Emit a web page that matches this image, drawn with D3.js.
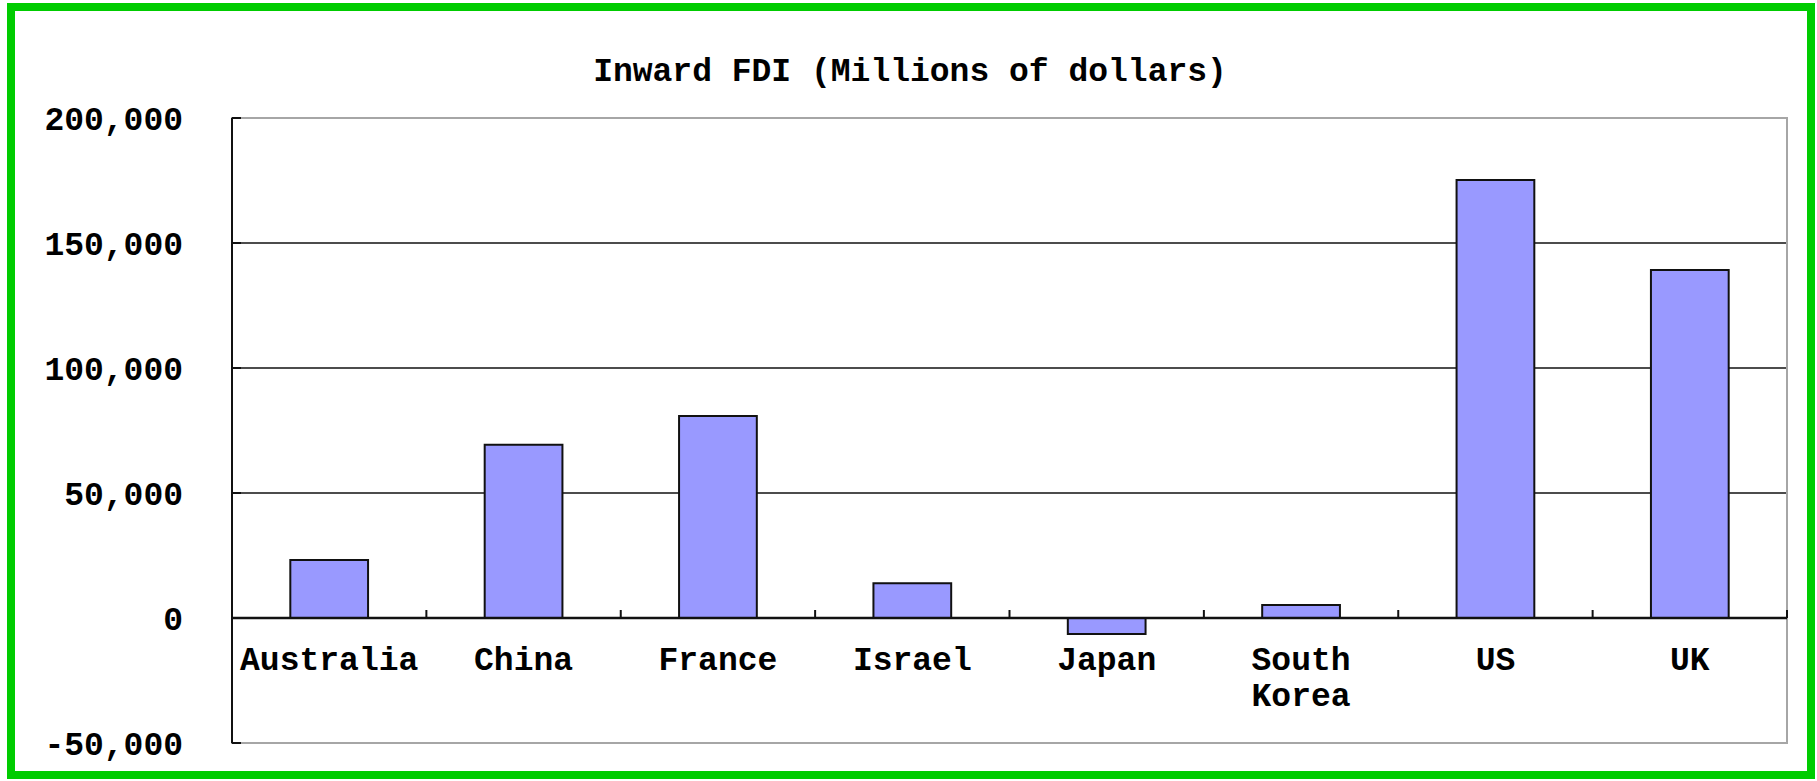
<!DOCTYPE html>
<html>
<head>
<meta charset="utf-8">
<script src="https://cdn.jsdelivr.net/npm/d3@7"></script>
<style>
  body { margin: 0; background: #fff; }
  text { font-family: "Liberation Mono", "DejaVu Sans Mono", monospace; font-weight: bold; fill: #000; }
</style>
</head>
<body>
<script>
// values (millions of dollars)
const categories = ['Australia', 'China', 'France', 'Israel', 'Japan', 'South Korea', 'US', 'UK'];
const fdiValues = [23200, 69300, 80800, 13900, -6400, 5200, 175200, 139200];
const yTicks = [-50000, 0, 50000, 100000, 150000, 200000];
const chartTitle = 'Inward FDI (Millions of dollars)';

function drawChart(svg) {
    const W = 1817, H = 781;
    const plot = {left: 232, right: 1787, top: 118, bottom: 743};

    svg.append('rect').attr('width', W).attr('height', H).attr('fill', '#fff');
    // green frame round the chart area
    svg.append('rect').attr('x', 11).attr('y', 7).attr('width', 1800).attr('height', 768)
        .attr('fill', 'none').attr('stroke', '#00cc00').attr('stroke-width', 8);

    const yScale = d3.scaleLinear().domain([-50000, 200000]).range([plot.bottom, plot.top]);
    const xScale = d3.scaleBand().domain(categories).range([plot.left, plot.right])
        .paddingInner(0.6).paddingOuter(0.3);

    // title
    svg.append('text').attr('x', 910).attr('y', 81).attr('text-anchor', 'middle')
        .style('font-size', '33px').text(chartTitle);

    // gridlines
    svg.append('g').selectAll('line').data(yTicks.filter(t => t > 0 && t < 200000)).enter()
        .append('line')
        .attr('x1', plot.left).attr('x2', plot.right)
        .attr('y1', d => yScale(d)).attr('y2', d => yScale(d))
        .attr('stroke', '#111').attr('stroke-width', 1.6);

    // plot area border
    svg.append('rect').attr('x', plot.left).attr('y', plot.top)
        .attr('width', plot.right - plot.left).attr('height', plot.bottom - plot.top)
        .attr('fill', 'none').attr('stroke', '#a6a6a6').attr('stroke-width', 2);

    // bars
    svg.append('g').selectAll('rect').data(fdiValues).enter()
        .append('rect')
        .attr('x', (d, i) => xScale(categories[i]))
        .attr('y', d => yScale(Math.max(0, d)))
        .attr('width', xScale.bandwidth())
        .attr('height', d => Math.abs(yScale(d) - yScale(0)))
        .attr('fill', '#9999ff').attr('stroke', '#111').attr('stroke-width', 2);

    // y axis line + inner ticks
    svg.append('line').attr('x1', plot.left).attr('x2', plot.left)
        .attr('y1', plot.top).attr('y2', plot.bottom).attr('stroke', '#111').attr('stroke-width', 2);
    svg.append('g').selectAll('line').data(yTicks).enter()
        .append('line')
        .attr('x1', plot.left).attr('x2', plot.left + 9)
        .attr('y1', d => yScale(d)).attr('y2', d => yScale(d))
        .attr('stroke', '#111').attr('stroke-width', 2);
    svg.append('g').selectAll('text').data(yTicks).enter()
        .append('text')
        .attr('x', 183).attr('y', d => yScale(d))
        .attr('dy', '0.35em').attr('text-anchor', 'end')
        .style('font-size', '33px')
        .text(d => d3.format(',')(d).replace('−', '-'));

    // x axis at zero with ticks at category boundaries
    const y0 = yScale(0);
    svg.append('line').attr('x1', plot.left).attr('x2', plot.right)
        .attr('y1', y0).attr('y2', y0).attr('stroke', '#111').attr('stroke-width', 2.4);
    svg.append('g').selectAll('line').data(categories).enter()
        .append('line')
        .attr('x1', d => xScale(d) + xScale.bandwidth() / 2 + xScale.step() / 2)
        .attr('x2', d => xScale(d) + xScale.bandwidth() / 2 + xScale.step() / 2)
        .attr('y1', y0).attr('y2', y0 - 8)
        .attr('stroke', '#111').attr('stroke-width', 2);

    // category labels, long ones wrapped on words
    const labels = svg.append('g').selectAll('text').data(categories).enter()
        .append('text')
        .attr('x', d => xScale(d) + xScale.bandwidth() / 2)
        .attr('y', 670)
        .attr('text-anchor', 'middle')
        .style('font-size', '33px');
    labels.each(function (d) {
        const el = d3.select(this);
        const cx = xScale(d) + xScale.bandwidth() / 2;
        d.split(' ').forEach((w, i) => {
            el.append('tspan').attr('x', cx).attr('dy', i === 0 ? 0 : 36).text(w);
        });
    });
}

const svg = d3.select('body').append('svg').attr('width', 1817).attr('height', 781);
drawChart(svg);
</script>
</body>
</html>
